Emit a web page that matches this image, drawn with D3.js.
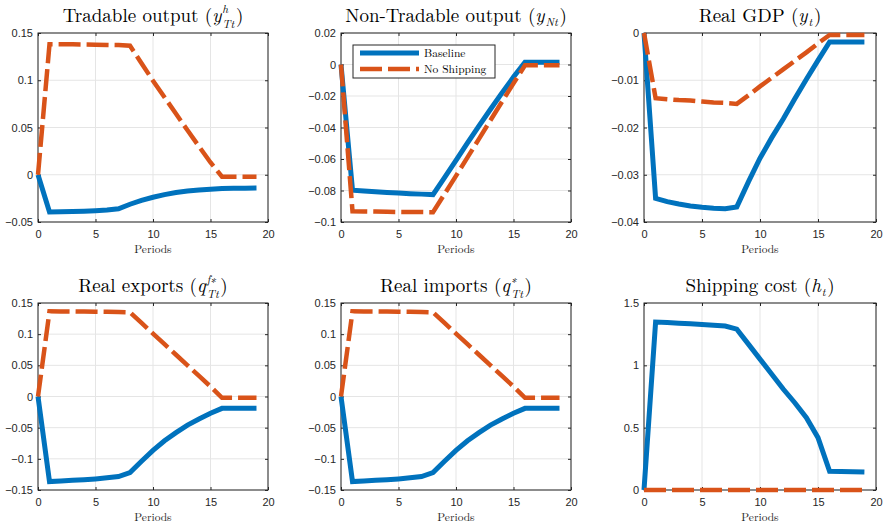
<!DOCTYPE html>
<html>
<head>
<meta charset="utf-8">
<script src="https://cdn.jsdelivr.net/npm/d3@7"></script>
<style>
  body { margin: 0; background: #fff; }
  svg { display: block; }
  .tick text { font-family: "Liberation Sans", Arial, sans-serif; font-size: 11px; fill: #262626; }
</style>
</head>
<body>
<div id="chart"></div>
<script>
// periods 0..19
var periods = d3.range(0, 20);

// Tradable output
var tradBase = [0, -0.0395, -0.0392, -0.0389, -0.0385, -0.0380, -0.0373, -0.0360, -0.0312, -0.0272,
                -0.0238, -0.0210, -0.0188, -0.0172, -0.0162, -0.0154, -0.0145, -0.0143, -0.0142, -0.0141];
var tradNoShip = [0, 0.138, 0.138, 0.138, 0.1378, 0.1376, 0.1374, 0.1372, 0.1365, 0.118,
                  0.0995, 0.082, 0.0645, 0.047, 0.030, 0.013, -0.002, -0.002, -0.002, -0.002];

// Non-tradable output
var nonTradBase = [0, -0.0798, -0.0803, -0.0808, -0.0812, -0.0816, -0.0820, -0.0823, -0.0826, -0.0718,
                   -0.0608, -0.0498, -0.0390, -0.0284, -0.0180, -0.0080, 0.0015, 0.0015, 0.0015, 0.0015];
var nonTradNoShip = [0, -0.0932, -0.0933, -0.0934, -0.0935, -0.0936, -0.0937, -0.0937, -0.0938, -0.0823,
                     -0.0707, -0.0590, -0.0472, -0.0354, -0.0236, -0.0120, -0.0005, -0.0005, -0.0005, -0.0005];

// Real GDP
var gdpBase = [0, -0.0350, -0.0357, -0.0362, -0.0366, -0.0369, -0.0371, -0.0372, -0.0368, -0.0315,
               -0.0265, -0.0222, -0.0182, -0.0139, -0.0098, -0.0058, -0.0019, -0.0019, -0.0019, -0.0019];
var gdpNoShip = [0, -0.0138, -0.0140, -0.0142, -0.0143, -0.0145, -0.0147, -0.0148, -0.0150, -0.0132,
                 -0.0113, -0.0095, -0.0077, -0.0059, -0.0041, -0.0022, -0.0004, -0.0004, -0.0004, -0.0004];

// Real exports
var expBase = [0, -0.1365, -0.1355, -0.1345, -0.1335, -0.1322, -0.1305, -0.1285, -0.1220, -0.1040,
               -0.0865, -0.0710, -0.0580, -0.0460, -0.0360, -0.0270, -0.0190, -0.0189, -0.0188, -0.0187];
var expNoShip = [0, 0.1366, 0.1365, 0.1364, 0.1362, 0.1360, 0.1358, 0.1355, 0.1350, 0.1180,
                 0.1010, 0.0840, 0.0670, 0.0500, 0.0330, 0.0160, -0.0020, -0.0020, -0.0020, -0.0020];

// Real imports
var impBase = [0, -0.1365, -0.1355, -0.1345, -0.1335, -0.1322, -0.1305, -0.1285, -0.1220, -0.1040,
               -0.0865, -0.0710, -0.0580, -0.0460, -0.0360, -0.0270, -0.0190, -0.0189, -0.0188, -0.0187];
var impNoShip = [0, 0.1366, 0.1365, 0.1364, 0.1362, 0.1360, 0.1358, 0.1355, 0.1350, 0.1180,
                 0.1010, 0.0840, 0.0670, 0.0500, 0.0330, 0.0160, -0.0020, -0.0020, -0.0020, -0.0020];

// Shipping cost
var shipBase = [0, 1.347, 1.343, 1.338, 1.333, 1.328, 1.322, 1.315, 1.290, 1.170,
                1.050, 0.930, 0.810, 0.700, 0.580, 0.420, 0.150, 0.148, 0.146, 0.144];
var shipNoShip = [0, 0, 0, 0, 0, 0, 0, 0, 0, 0, 0, 0, 0, 0, 0, 0, 0, 0, 0, 0];

// tick labels
var xTicks = [0, 5, 10, 15, 20];
var yTicksTrad = [-0.05, 0, 0.05, 0.1, 0.15];
var yTicksNonTrad = [-0.1, -0.08, -0.06, -0.04, -0.02, 0, 0.02];
var yTicksGdp = [-0.04, -0.03, -0.02, -0.01, 0];
var yTicksTrade = [-0.15, -0.1, -0.05, 0, 0.05, 0.1, 0.15];
var yTicksShip = [0, 0.5, 1, 1.5];

var seriesNames = ["Baseline", "No Shipping"];

var blue = "#0072BD", orange = "#D95319";

// title parts: t = text (it = italic), sup/sub = scripts
var panels = [
  { base: tradBase, noShip: tradNoShip, yTicks: yTicksTrad, left: 38, right: 268, top: 33, bottom: 222,
    title: [{t: "Tradable output ("}, {t: "y", it: 1}, {sup: "h", sub: "Tt"}, {t: ")"}] },
  { base: nonTradBase, noShip: nonTradNoShip, yTicks: yTicksNonTrad, left: 341, right: 571, top: 33, bottom: 222,
    title: [{t: "Non-Tradable output ("}, {t: "y", it: 1}, {sub: "Nt"}, {t: ")"}], legend: true },
  { base: gdpBase, noShip: gdpNoShip, yTicks: yTicksGdp, left: 644, right: 876, top: 33, bottom: 222,
    title: [{t: "Real GDP ("}, {t: "y", it: 1}, {sub: "t"}, {t: ")"}] },
  { base: expBase, noShip: expNoShip, yTicks: yTicksTrade, left: 38, right: 268, top: 303, bottom: 490,
    title: [{t: "Real exports ("}, {t: "q", it: 1}, {sup: "f\u2217", sub: "Tt"}, {t: ")"}] },
  { base: impBase, noShip: impNoShip, yTicks: yTicksTrade, left: 341, right: 571, top: 303, bottom: 490,
    title: [{t: "Real imports ("}, {t: "q", it: 1}, {sup: "\u2217", sub: "Tt"}, {t: ")"}] },
  { base: shipBase, noShip: shipNoShip, yTicks: yTicksShip, left: 644, right: 876, top: 303, bottom: 490,
    title: [{t: "Shipping cost ("}, {t: "h", it: 1}, {sub: "t"}, {t: ")"}] }
];

var svg = d3.select("#chart").append("svg")
    .attr("width", 884)
    .attr("height", 523);

var serif = "'Latin Modern Roman', 'Liberation Serif', 'DejaVu Serif', serif";

// draws a small math-ish title centered on cx, baseline y
function drawTitle(parts, cx, y) {
  var g = svg.append("g");
  var x = 0, fs = 19, small = 11.5;
  parts.forEach(function(p) {
    if (p.t !== undefined) {
      var t = g.append("text")
          .attr("x", x).attr("y", y)
          .attr("font-family", serif)
          .attr("font-size", fs)
          .attr("font-style", p.it ? "italic" : "normal")
          .attr("fill", "#000")
          .text(p.t);
      x += t.node().getComputedTextLength() + (p.it ? 1 : 0);
    } else {
      var w = 0;
      if (p.sup) {
        var s = g.append("text")
            .attr("x", x).attr("y", y - 9)
            .attr("font-family", serif).attr("font-size", small)
            .attr("font-style", "italic").attr("fill", "#000")
            .text(p.sup);
        w = Math.max(w, s.node().getComputedTextLength());
      }
      if (p.sub) {
        var b = g.append("text")
            .attr("x", x).attr("y", y + (p.sup ? 5.5 : 3.5))
            .attr("font-family", serif).attr("font-size", small)
            .attr("font-style", "italic").attr("fill", "#000")
            .text(p.sub);
        w = Math.max(w, b.node().getComputedTextLength());
      }
      x += w + 1.5;
    }
  });
  g.attr("transform", "translate(" + (cx - x / 2) + ",0)");
}

panels.forEach(function(p) {
  var x = d3.scaleLinear().domain([0, 20]).range([p.left, p.right]);
  var y = d3.scaleLinear().domain([p.yTicks[0], p.yTicks[p.yTicks.length - 1]]).range([p.bottom, p.top]);

  var g = svg.append("g");

  // grid
  g.append("g").selectAll("line").data(xTicks).join("line")
      .attr("x1", d => x(d)).attr("x2", d => x(d))
      .attr("y1", p.top).attr("y2", p.bottom)
      .attr("stroke", "#e5e5e5").attr("stroke-width", 1);
  g.append("g").selectAll("line").data(p.yTicks).join("line")
      .attr("x1", p.left).attr("x2", p.right)
      .attr("y1", d => y(d)).attr("y2", d => y(d))
      .attr("stroke", "#e5e5e5").attr("stroke-width", 1);

  // axes (ticks pointing inwards)
  var fmt = d3.format("");
  var xAxis = g.append("g").attr("transform", "translate(0," + p.bottom + ")")
      .call(d3.axisBottom(x).tickValues(xTicks).tickSizeInner(-3).tickSizeOuter(0).tickPadding(8).tickFormat(fmt));
  var xAxisTop = g.append("g").attr("transform", "translate(0," + p.top + ")")
      .call(d3.axisTop(x).tickValues(xTicks).tickSizeInner(-3).tickSizeOuter(0).tickFormat(""));
  var yAxis = g.append("g").attr("transform", "translate(" + p.left + ",0)")
      .call(d3.axisLeft(y).tickValues(p.yTicks).tickSizeInner(-3).tickSizeOuter(0).tickPadding(5).tickFormat(fmt));
  var yAxisRight = g.append("g").attr("transform", "translate(" + p.right + ",0)")
      .call(d3.axisRight(y).tickValues(p.yTicks).tickSizeInner(-3).tickSizeOuter(0).tickFormat(""));
  [xAxis, xAxisTop, yAxis, yAxisRight].forEach(function(a) {
    a.select(".domain").remove();
    a.selectAll(".tick line").attr("stroke", "#262626");
  });
  g.append("rect")
      .attr("x", p.left).attr("y", p.top)
      .attr("width", p.right - p.left).attr("height", p.bottom - p.top)
      .attr("fill", "none").attr("stroke", "#262626").attr("stroke-width", 1);

  // x label
  g.append("text")
      .attr("x", (p.left + p.right) / 2).attr("y", p.bottom + 31)
      .attr("text-anchor", "middle")
      .attr("font-family", serif).attr("font-size", 11.5)
      .attr("fill", "#262626")
      .text("Periods");

  var line = d3.line().x((d, i) => x(periods[i])).y(d => y(d));

  g.append("path").datum(p.base)
      .attr("d", line)
      .attr("fill", "none").attr("stroke", blue).attr("stroke-width", 5)
      .attr("stroke-linejoin", "miter");
  g.append("path").datum(p.noShip)
      .attr("d", line)
      .attr("fill", "none").attr("stroke", orange).attr("stroke-width", 4.5)
      .attr("stroke-dasharray", "22,6");

  drawTitle(p.title, (p.left + p.right) / 2, p.top - 11);

  if (p.legend) {
    var lg = svg.append("g");
    lg.append("rect")
        .attr("x", 353).attr("y", 45).attr("width", 142).attr("height", 33)
        .attr("fill", "#fff").attr("stroke", "#262626").attr("stroke-width", 1);
    var items = [{name: seriesNames[0], c: blue, dash: null, w: 5},
                 {name: seriesNames[1], c: orange, dash: "22,6", w: 4.5}];
    items.forEach(function(it, i) {
      var yy = 53 + i * 16;
      lg.append("line")
          .attr("x1", 360).attr("x2", 419).attr("y1", yy).attr("y2", yy)
          .attr("stroke", it.c).attr("stroke-width", it.w)
          .attr("stroke-dasharray", it.dash);
      lg.append("text")
          .attr("x", 424).attr("y", yy + 4)
          .attr("font-family", serif).attr("font-size", 11.5)
          .attr("fill", "#000")
          .text(it.name);
    });
  }
});
</script>
</body>
</html>
